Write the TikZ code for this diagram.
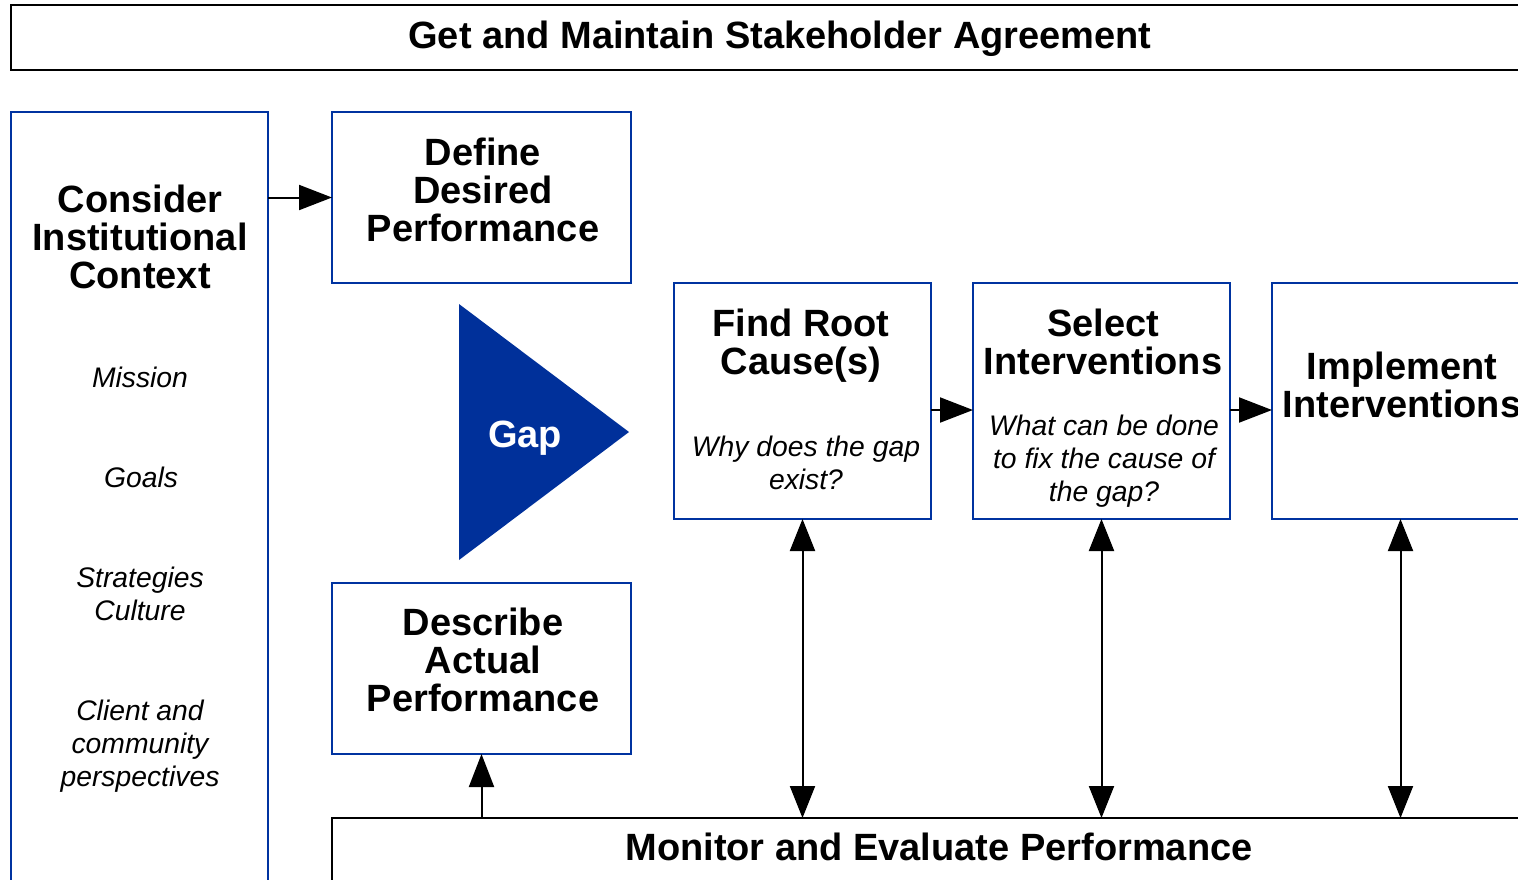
\documentclass[tikz,border=0pt]{standalone}
\usepackage{fontspec}
\setmainfont{Liberation Sans}
\usetikzlibrary{arrows.meta}
\definecolor{boxblue}{RGB}{0,51,160}
\definecolor{gapblue}{RGB}{0,48,154}
\begin{document}
\begin{tikzpicture}[x=1pt,y=-1pt,
  box/.style={draw=boxblue, line width=2pt, inner sep=0pt, outer sep=0pt, anchor=north west},
  frame/.style={draw=black, line width=2.5pt, inner sep=0pt, outer sep=0pt, anchor=north west},
  head/.style={font=\bfseries\fontsize{38}{38}\selectfont, align=center, inner sep=0pt, anchor=base},
  note/.style={font=\itshape\fontsize{28.3}{33}\selectfont, align=center, inner sep=0pt, anchor=base},
  link/.style={line width=2pt, -{Triangle[length=33pt,width=25pt]}},
  both/.style={line width=2pt, {Triangle[length=32pt,width=25pt]}-{Triangle[length=32pt,width=25pt]}}]
\useasboundingbox (0,0) rectangle (1518,879);
\clip (0,0) rectangle (1518,879);

% frames and process boxes
\node[frame, minimum width=1538pt, minimum height=65pt] (agree) at (11,5) {};
\node[box, minimum width=257pt, minimum height=900pt] (context) at (11,112) {};
\node[box, minimum width=299pt, minimum height=171pt] (define) at (332,112) {};
\node[box, minimum width=299pt, minimum height=171pt] (describe) at (332,583) {};
\node[box, minimum width=257pt, minimum height=236pt] (find) at (674,283) {};
\node[box, minimum width=257pt, minimum height=236pt] (select) at (973,283) {};
\node[box, minimum width=257pt, minimum height=236pt] (implement) at (1272,283) {};
\node[frame, minimum width=1214pt, minimum height=120pt] (monitor) at (332,818) {};

% gap triangle
\fill[gapblue] (459,304) -- (629,432) -- (459,560) -- cycle;
\node[head, text=white] (gap) at (525,447) {Gap};

% labels (anchor base = baseline of the last line)
\node[head] (agreetxt) at (780,48) {Get and Maintain Stakeholder Agreement};
\node[head] (contexttxt) at (140,288) {Consider\\Institutional\\Context};
\node[note] (mission) at (140,387) {Mission};
\node[note] (goals) at (141,487) {Goals};
\node[note] (strat) at (140,620) {Strategies\\Culture};
\node[note] (client) at (140,786) {Client and\\community\\perspectives};
\node[head] (definetxt) at (483,241) {Define\\Desired\\Performance};
\node[head] (describetxt) at (483,711) {Describe\\Actual\\Performance};
\node[head] (findtxt) at (801,374) {Find Root\\Cause(s)};
\node[note] (findq) at (806,489) {Why does the gap\\exist?};
\node[head] (selecttxt) at (1103,374) {Select\\Interventions};
\node[note] (selectq) at (1104,501) {What can be done\\to fix the cause of\\the gap?};
\node[head] (implementtxt) at (1402,417) {Implement\\Interventions};
\node[head] (monitortxt) at (939,860) {Monitor and Evaluate Performance};

% connectors
\draw[link] (context.east |- define.west) -- (define.west);
\draw[link] ([yshift=-9pt]find.east) -- ([yshift=-9pt]select.west);
\draw[link] ([yshift=-9pt]select.east) -- ([yshift=-9pt]implement.west);
\draw[link] (describe.south |- monitor.north) -- (describe.south);
\draw[both] (find.south) -- (find.south |- monitor.north);
\draw[both] (select.south) -- (select.south |- monitor.north);
\draw[both] (implement.south) -- (implement.south |- monitor.north);
\end{tikzpicture}
\end{document}
